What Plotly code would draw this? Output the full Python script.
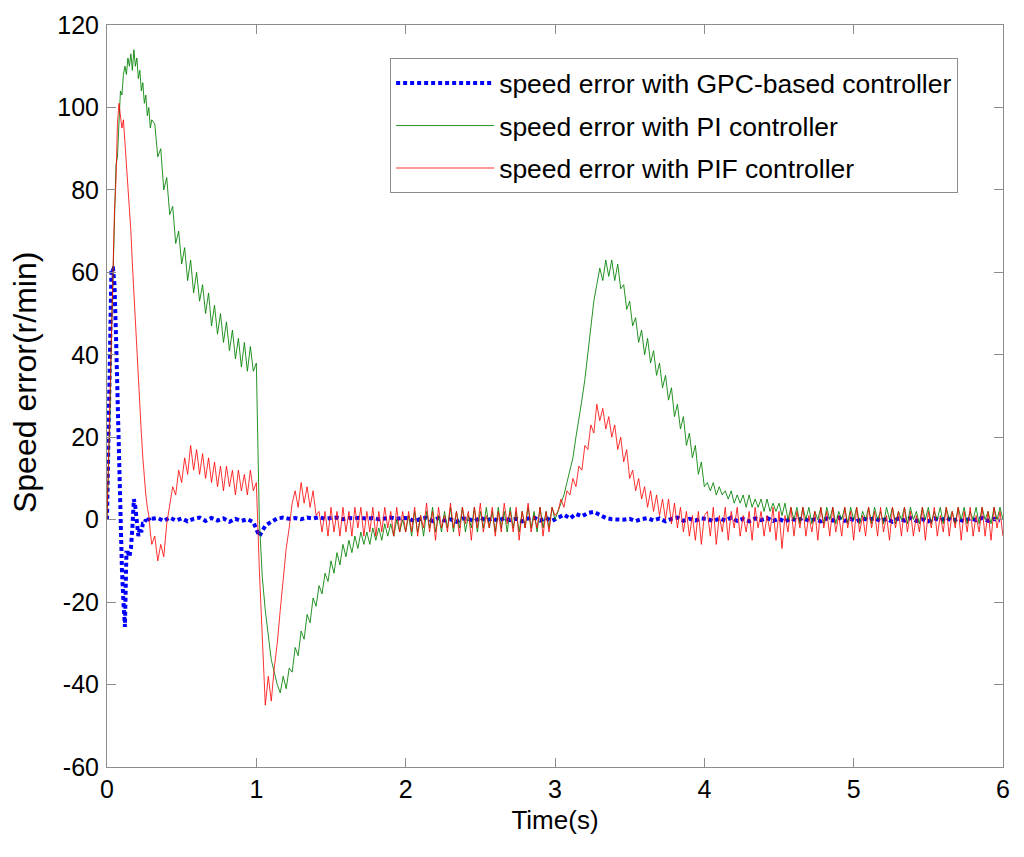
import numpy as np
import plotly.graph_objects as go

# ---------------- data ----------------
# Each series is stored in segments: (start time, sample step, values)

# GPC-based controller (blue dotted)
gpc_start = [0, 25, 50, 61, 61, 57, 45, 30, 15, 0,
             -12, -20, -26, -8, -8, -9, -7, -2, 5, 3,
             -2, -4, -2, -3, -1, -1, 0, -0.5, 0.3, -0.3, 0.2]
gpc_rest = [0.4, -0.3, 0.5, -0.2, 0.3, -0.4, 0.2, 0.5, -0.3, 0.4,
            -0.2, 0.3, -0.5, 0.2, -0.3, 0.1, -0.6,
            -4, -1.5, -0.5, 0.3, 0.5, 0.2, 0.4, 0.1, 0.5, 0.3,
            0.6, 0.2, 0.4, 0.5, 0.1, 0.4, 0.3, 0.5, 0.2, 0.4,
            0.1, 0.3, 0.5, 0.2, 0.4,
            0.3, -0.4, 0.2, 0.5, -0.3, 0.4, -0.2, 0.1, -0.5, 0.3,
            0.2, -0.4, 0.5, -0.2, 0.3, -0.3, 0.4, -0.1, 0.2, -0.4,
            0.3, 0.5, -0.2, 0.4, -0.3,
            0.5, 1.2, 0.3, 1.4, 0.8, 1.6, 1.9, 1.2, 0.4, 0.1,
            0, 0, 0.2, -0.3, 0.1, 0.4, -0.2, 0.3, -0.4, 0.2,
            0.5, -0.3, 0.2, -0.2, 0.3,
            0.2, -0.4, 0.3, -0.2, 0.5, -0.3, 0.2, -0.4, 0.3, -0.1,
            0.4, -0.3, 0.2, -0.5, 0.3, -0.2, 0.4, -0.3, 0.1, -0.4,
            0.3, -0.2, 0.5, -0.3, 0.2, -0.4, 0.3, -0.1, 0.4, -0.3,
            0.2, -0.5, 0.3, -0.2, 0.4, -0.3, 0.1, -0.4, 0.3, -0.2,
            0.5, -0.3, 0.2, -0.4, 0.3, -0.1, 0.4, -0.3, 0.2, -0.2]

# PI controller (green)
pi_start = [0, 10, 25, 45, 60, 74, 86, 88, 98, 104,
            103, 108, 110, 108, 112, 110, 113, 109, 114, 110,
            112, 107, 109, 104, 106, 101, 103, 98, 100, 95, 97]
pi_a = [96, 88, 90, 80, 83, 74, 76, 67, 70, 62,
        66, 58, 63, 55, 60, 53, 57, 50, 55, 47,
        52, 45, 50, 43, 48, 41, 46, 39, 44, 37,
        43, 36, 42, 36, 38]
pi_b = [0, -14, -22, -28, -34, -37, -40, -42, -38, -41,
        -36, -37, -31, -33, -27, -29, -23, -25, -19, -21,
        -16, -18, -13, -15, -10, -13, -8, -11, -6, -9,
        -5, -8, -4, -7, -3, -6, -3, -6, -2, -5,
        -2, -5, -1, -4, -1, -4, 0, -3, 0, -3]
pi_c = [1, -4, 2, -3, 1, -4, 2, -2, 3, -3,
        1, -3, 2, -2, 3, -3, 2, -2, 3, -3,
        1, -2, 3, -3, 2, -2, 3, -2, 2, -3,
        3, -2, 2, -3, 3, -2, 2, -3, 2, -2,
        3, -2, 2, -3, 3, -2, 2, -2, 3, 0]
pi_d = [2, 4, 6, 9, 12, 15, 20, 24, 29, 34,
        40, 47, 53, 57, 61, 58, 63, 59, 63, 58,
        62, 56, 57, 51, 53, 47, 49, 43, 46, 40,
        44, 38, 41, 35, 38, 32, 35, 29, 32, 25,
        28, 22, 25, 18, 21, 15, 18, 11, 14, 8]
pi_e = [9, 7, 9, 6, 8, 6, 7, 5, 7, 4,
        6, 4, 6, 3, 6, 3, 5, 3, 5, 2,
        5, 2, 4, 2, 4, 1, 4, 0, 3, 0,
        3, -1, 3, 0, 3, -1, 2, 0, 3, -1,
        3, 0, 3, -1, 2, 0, 3, -1, 3, 0,
        3, -1, 2, 0, 3, -1, 3, 0, 2, -1,
        3, 0, 3, -1, 2, 0, 3, -1, 3, 0,
        2, -1, 3, 0, 3, -1, 2, 0, 3, -1,
        3, 0, 2, -1, 3, 0, 3, -1, 2, 0,
        3, -1, 3, 0, 2, -1, 3, 0, 3, 0]

# PIF controller (red)
pif_start = [0, 15, 32, 50, 64, 75, 82, 96, 101, 98,
             95, 97, 92, 86, 80, 76, 70, 62, 55, 46,
             40, 35, 28, 21, 15, 10, 6, 3, 1, -3, -6]
pif_a = [-4, -10, -6, -9, -1, 4, 8, 6, 12, 9,
         15, 11, 18, 12, 17, 11, 16, 10, 15, 9,
         14, 8, 13, 7, 13, 8, 12, 6, 12, 7,
         11, 6, 12, 7, 9]
pif_b = [-12, -30, -45, -38, -44, -36, -30, -22, -15, -7,
         -2, 4, 7, 3, 9, 4, 8, 3, 7, 1,
         2, -3, 2, -4, 3, -3, 2, -4, 3, -3,
         2, -4, 3, -2, 3, -4, 2, -3, 3, -4,
         2, -3, 3, -2, 2, -4, 3, -3, 2, -3]
pif_c = [2, -3, 3, -4, 1, -2, 4, -3, 2, -5,
         3, -2, 1, -3, 4, -2, 2, -4, 3, -1,
         2, -5, 3, -2, 4, -3, 1, -2, 3, -4,
         2, -3, 4, -1, 2, -3, 3, -5, 2, -2,
         4, -3, 1, -2, 3, -4, 2, -3, 3, 1]
pif_d = [2, 5, 3, 7, 6, 10, 8, 13, 12, 18,
         17, 23, 21, 28, 24, 27, 22, 25, 20, 23,
         17, 20, 14, 17, 10, 12, 7, 10, 5, 8,
         3, 7, 2, 6, 1, 5, 0, 5, -1, 4,
         -2, 3, -3, 2, -4, 1, -5, 2, -6, 1]
pif_e = [2, -4, 3, -6, 1, -3, 3, -5, 2, -2,
         3, -4, 1, -3, 2, -5, 3, -2, 2, -4,
         1, -3, 3, -5, 2, -7, 1, -3, 3, -4,
         2, -2, 3, -4, 1, -3, 2, -5, 3, -2,
         2, -4, 3, -3, 1, -4, 3, -2, 2, -5,
         3, -3, 1, -4, 3, -2, 2, -4, 3, -3,
         1, -5, 3, -2, 2, -4, 3, -3, 2, -4,
         1, -3, 3, -5, 2, -2, 3, -4, 1, -3,
         3, -4, 2, -2, 3, -5, 2, -3, 3, -4,
         1, -3, 3, -4, 2, -5, 3, -2, 2, -4]

x_ticks = [0, 1, 2, 3, 4, 5, 6]
y_ticks = [-60, -40, -20, 0, 20, 40, 60, 80, 100, 120]

names = ["speed error with GPC-based controller",
         "speed error with PI controller",
         "speed error with PIF controller"]


def build(segments):
    ts, vs = [], []
    for t0, dt, vals in segments:
        for i, v in enumerate(vals):
            ts.append(round(t0 + dt * i, 4))
            vs.append(v)
    return ts, vs


t_gpc, v_gpc = build([(0.0, 0.01, gpc_start), (0.34, 0.04, gpc_rest)])
t_pi, v_pi = build([(0.0, 0.01, pi_start), (0.32, 0.02, pi_a), (1.02, 0.02, pi_b),
                    (2.02, 0.02, pi_c), (3.02, 0.02, pi_d), (4.02, 0.02, pi_e)])
t_pif, v_pif = build([(0.0, 0.01, pif_start), (0.32, 0.02, pif_a), (1.02, 0.02, pif_b),
                      (2.02, 0.02, pif_c), (3.02, 0.02, pif_d), (4.02, 0.02, pif_e)])

FONT = "Liberation Sans, Arial, sans-serif"

fig = go.Figure()
fig.add_trace(go.Scatter(x=t_gpc, y=v_gpc, mode="lines", name=names[0],
                         legendgroup="a",
                         line=dict(color="rgb(0,0,255)", width=4, dash="4px,3px")))
fig.add_trace(go.Scatter(x=t_pi, y=v_pi, mode="lines", name=names[1],
                         legendgroup="b",
                         line=dict(color="rgba(0,128,0,0.85)", width=1)))
fig.add_trace(go.Scatter(x=t_pif, y=v_pif, mode="lines", name=names[2],
                         legendgroup="c",
                         line=dict(color="rgba(255,0,0,0.8)", width=1)))

axis_common = dict(showline=True, linecolor="#8c8c8c", linewidth=1, mirror="ticks",
                   ticks="inside", ticklen=9, tickcolor="#8c8c8c", tickwidth=1,
                   showgrid=False, zeroline=False, automargin=False,
                   tickfont=dict(family=FONT, size=25, color="black"))

fig.update_layout(
    width=1024, height=857,
    paper_bgcolor="white", plot_bgcolor="white",
    margin=dict(l=99, r=29, t=17, b=98),
    font=dict(family=FONT, color="black"),
    xaxis=dict(range=[0, 6], tickvals=x_ticks, ticktext=[str(v) for v in x_ticks],
               title=dict(text="Time(s)", font=dict(family=FONT, size=26), standoff=8),
               **axis_common),
    yaxis=dict(range=[-60, 120], tickvals=y_ticks, ticktext=[str(v) for v in y_ticks],
               ticklabelstandoff=2, **axis_common),
    annotations=[dict(text="Speed error(r/min)", textangle=-90, showarrow=False,
                      xref="paper", yref="paper", x=-0.0915, y=0.5175,
                      xanchor="center", yanchor="middle",
                      font=dict(family=FONT, size=32, color="black"))],
    legend=dict(x=0.316, y=0.955, xanchor="left", yanchor="top",
                bgcolor="white", bordercolor="#8c8c8c", borderwidth=1,
                font=dict(family=FONT, size=26.5, color="black"),
                itemwidth=98, tracegroupgap=5),
    showlegend=True,
)

fig.write_html("out.html")
